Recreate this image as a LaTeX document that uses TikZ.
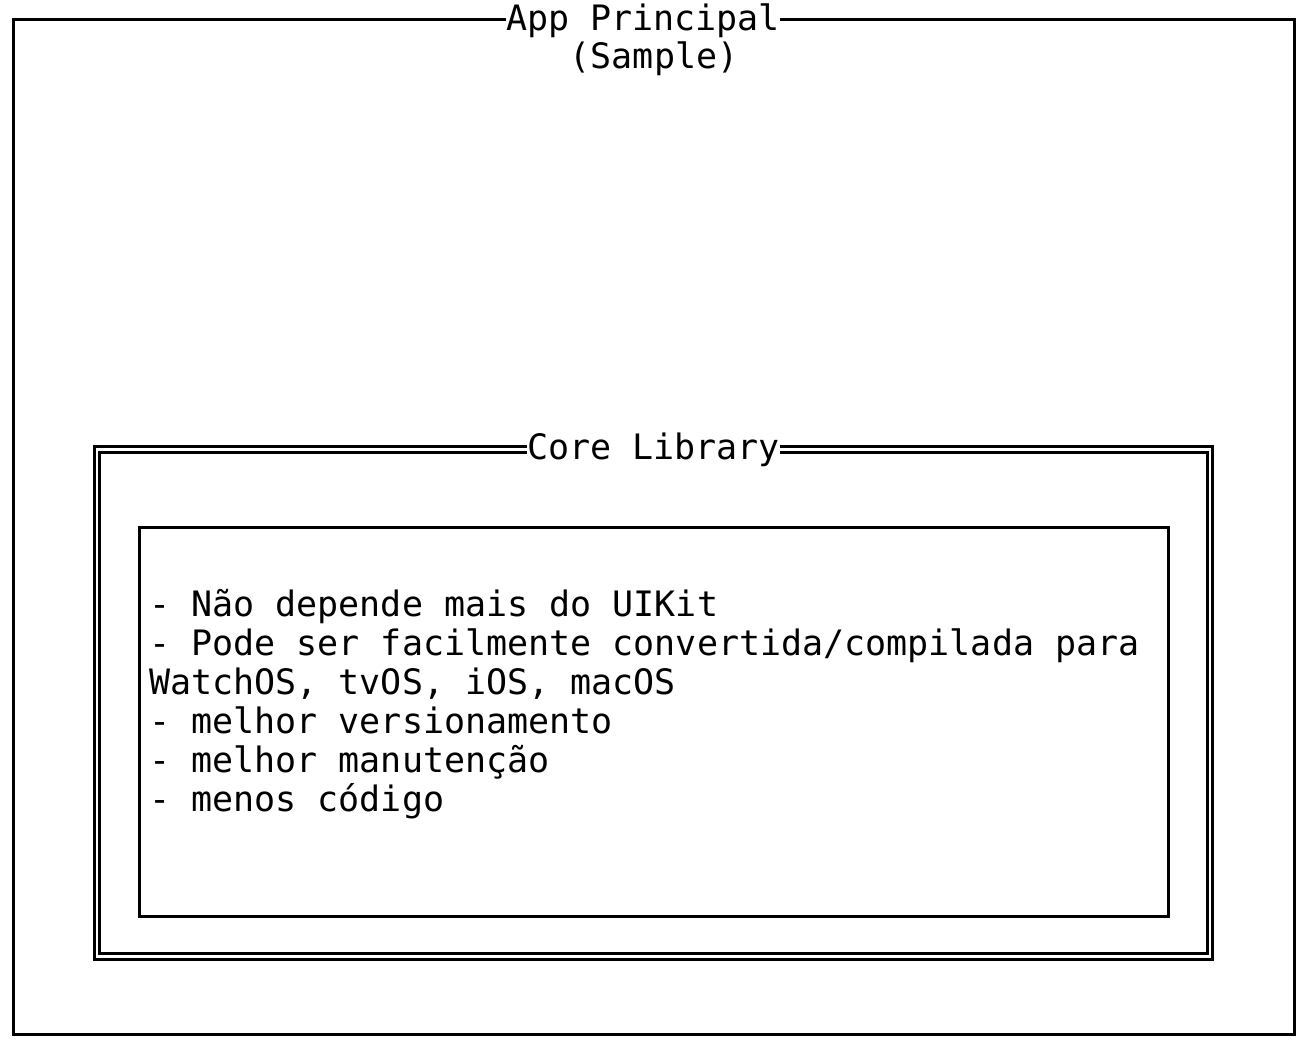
\documentclass[tikz,border=0pt]{standalone}
\usepackage{fontspec}
\setmonofont{DejaVu Sans Mono}
\begin{document}
\begin{tikzpicture}[x=1pt,y=-1pt,
  boxline/.style={draw=black,line width=3pt},
  dblline/.style={draw=black,line width=3pt},
  title/.style={font=\ttfamily\fontsize{35}{39}\selectfont,fill=white,inner xsep=0pt,inner ysep=1pt},
  body/.style={font=\ttfamily\fontsize{35}{39}\selectfont,inner sep=0pt,anchor=base west}]
\useasboundingbox (0,0) rectangle (1305,1056);
% outer app box
\draw[boxline] (13,20) rectangle (1294,1034);
\node[title,anchor=base] (app) at (643,31) {App Principal};
\node[font=\ttfamily\fontsize{35}{39}\selectfont,inner sep=0pt,anchor=base] (sample) at (654,69) {(Sample)};
% core library double box
\draw[dblline] (94.5,446.5) rectangle (1212,959);
\draw[dblline] (99.5,452) rectangle (1207,953);
\node[title,anchor=base,inner ysep=6pt] (core) at (653.5,459) {Core Library};
% inner box
\draw[boxline] (139,527) rectangle (1168,916);
\node[body] (l1) at (149,616) {- Não depende mais do UIKit};
\node[body] (l2) at (149,655) {- Pode ser facilmente convertida/compilada para};
\node[body] (l3) at (149,694) {WatchOS, tvOS, iOS, macOS};
\node[body] (l4) at (149,733) {- melhor versionamento};
\node[body] (l5) at (149,772) {- melhor manutenção};
\node[body] (l6) at (149,811) {- menos código};
\end{tikzpicture}
\end{document}
